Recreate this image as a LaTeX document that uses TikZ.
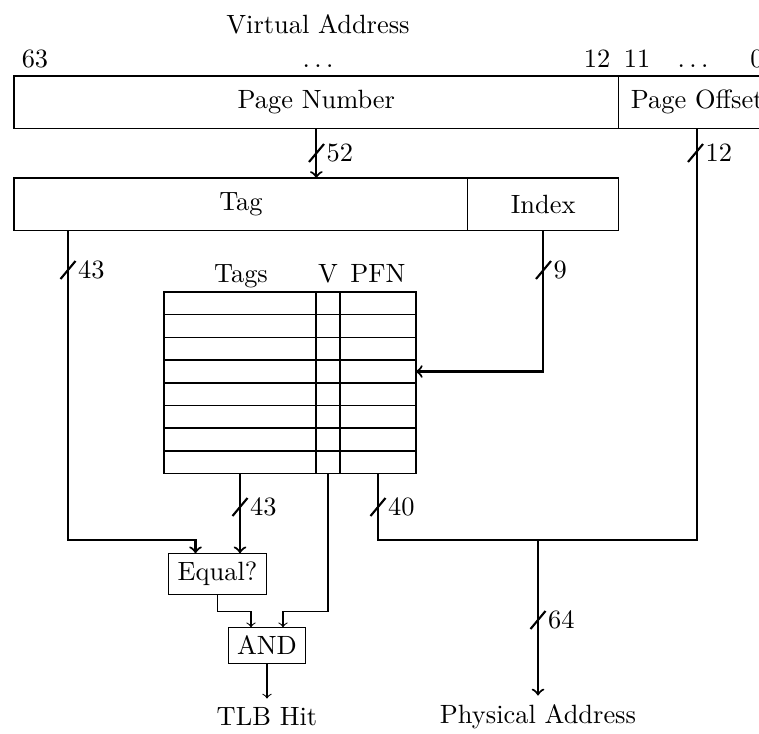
\documentclass[tikz,border=0pt]{standalone}
\usetikzlibrary{positioning}
\usetikzlibrary{calc}

\begin{document}
\begin{tikzpicture}[
        x=0.0133cm, y=-0.0133cm,
        % Boxes of the address fields
        field/.style={draw, inner sep=3pt, minimum height=19.7pt, outer sep=0pt},
        % Small logic boxes
        gate/.style={draw, outer sep=0pt},
        % Buses and single wires
        bus/.style={thick},
        wire/.style={thin},
        % Bus width numbers and bit numbers
        widthtext/.style={anchor=west, inner sep=1pt},
        bitnum/.style={anchor=base}
    ]
    \useasboundingbox (0,0) rectangle (759,733);

    % --- Virtual address ---
    \node[anchor=base] (va) at (318,33) {Virtual Address};
    \node[field, minimum width=228.9pt, anchor=north west] (pagenum) at (14,76) {Page Number};
    \node[field, minimum width=59.5pt, anchor=west] (pageoff) at (pagenum.east) {Page Offset};

    % Bit numbers above the fields
    \node[bitnum] (b63) at (35,67) {63};
    \node[bitnum] (bdots) at (318,67) {$\ldots$};
    \node[bitnum] (b12) at (597,67) {12};
    \node[bitnum] (b11) at (637,67) {11};
    \node[bitnum] (bodots) at (693,67) {$\ldots$};
    \node[bitnum] (b0) at (757,67) {0};

    % --- Tag and index ---
    \node[field, minimum width=171.8pt, anchor=north west] (tag) at (14,178) {Tag};
    \node[field, minimum width=57.1pt, anchor=west] (index) at (tag.east) {Index};

    % --- TLB array ---
    \node[draw, semithick, minimum width=95.3pt, minimum height=68.7pt,
        inner sep=0pt, outer sep=0pt, anchor=north west] (tlb) at (164,292) {};
    \foreach \r in {1,...,7}
        \draw[semithick] ($(tlb.north west)+(0,\r*22.69)$) -- ($(tlb.north east)+(0,\r*22.69)$);
    \draw[semithick] ($(tlb.north west)+(152,0)$) -- ($(tlb.south west)+(152,0)$);
    \draw[semithick] ($(tlb.north west)+(176,0)$) -- ($(tlb.south west)+(176,0)$);

    \node[anchor=base] (tagshead) at (241,282) {Tags};
    \node[anchor=base] (vhead) at (328,282) {V};
    \node[anchor=base] (pfnhead) at (378,282) {PFN};

    % --- Comparator and gate ---
    \node[gate] (equal) at (217.5,574) {Equal?};
    \node[gate] (andgate) at (267,645.5) {AND};
    \node (tlbhit) at (267,717) {TLB Hit};
    \node (pa) at (538,717) {Physical Address};

    % Tap points of the buses
    \coordinate (tagtap) at ($(tag.south west)+(54,0)$);
    \coordinate (idxtap) at (index.south);
    \coordinate (tagcol) at ($(tlb.south west)+(76,0)$);
    \coordinate (vcol) at ($(tlb.south west)+(164,0)$);
    \coordinate (pfncol) at ($(tlb.south west)+(214,0)$);
    \coordinate (idxrow) at ($(tlb.north east)+(0,79.5)$);
    \coordinate (eqa) at ($(equal.north)+(-22,0)$);
    \coordinate (eqb) at ($(equal.north)+(22.5,0)$);
    \coordinate (anda) at ($(andgate.north)+(-16,0)$);
    \coordinate (andb) at ($(andgate.north)+(16,0)$);
    \coordinate (join) at (538,540);

    % --- Connectors ---
    \draw[bus, ->] (pagenum.south) -- (pagenum.south |- tag.north);
    \draw[bus, ->] (tagtap) -- ++(0,310) -| (eqa);
    \draw[bus, ->] (idxtap) |- (idxrow);
    \draw[bus, ->] (tagcol) -- (eqb);
    \draw[wire, ->] (vcol) |- ($(andb)+(0,-16)$) -- (andb);
    \draw[wire, ->] (equal.south) |- ($(anda)+(0,-16)$) -- (anda);
    \draw[bus] (pfncol) |- (join) -| (pageoff.south);
    \draw[bus, ->] (join) -- (pa);
    \draw[wire, ->] (andgate.south) -- (tlbhit);

    % --- Bus widths ---
    \foreach \x/\y/\w [count=\i] in {316.5/153/52, 695.5/153/12, 68/270/43, 543.5/270/9,
            240/507/43, 378/507/40, 538/620/64} {
        \draw[thick] (\x,\y) ++(-7.5,9) -- ++(15,-18);
        \node[widthtext] (width\i) at ($(\x,\y)+(7,0)$) {\w};
    }

\end{tikzpicture}
\end{document}
